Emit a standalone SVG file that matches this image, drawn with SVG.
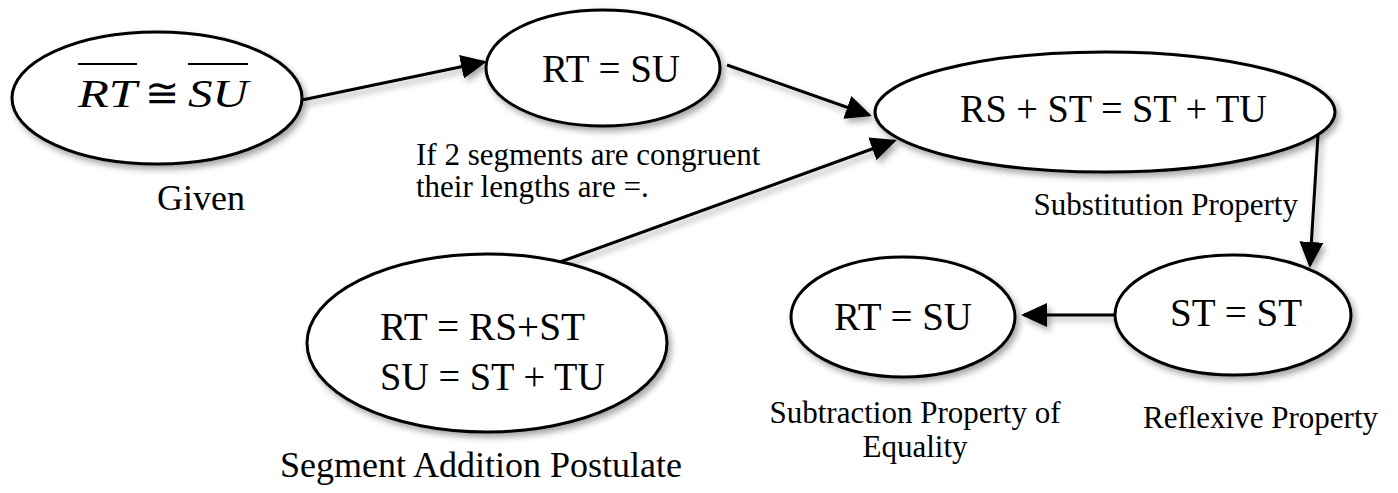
<svg xmlns="http://www.w3.org/2000/svg" width="1398" height="493" viewBox="0 0 1398 493">
<style>
.node ellipse{fill:#fff;stroke:#000;stroke-width:3;filter:url(#sh)}
.big{font-family:"Liberation Serif","DejaVu Serif",serif;font-size:41px;fill:#000}
.lbl{font-family:"Liberation Serif","DejaVu Serif",serif;font-size:31px;fill:#000}
.lbl2{font-family:"Liberation Serif","DejaVu Serif",serif;font-size:36px;fill:#000}
.conn line{stroke:#000;stroke-width:3;marker-end:url(#ah)}
</style>
<defs>
<filter id="sh" x="-20%" y="-20%" width="150%" height="160%">
<feDropShadow dx="3" dy="4" stdDeviation="3" flood-color="#000" flood-opacity="0.35"/>
</filter>
<marker id="ah" markerUnits="userSpaceOnUse" markerWidth="26" markerHeight="24" viewBox="0 0 26 24" refX="23" refY="12" orient="auto">
<path d="M0,0 L26,12 L0,24 z" fill="#000"/>
</marker>
</defs>
<rect width="1398" height="493" fill="#fff"/>
<g class="conn" id="connectors" filter="url(#sh)">
<line x1="302" y1="100" x2="484" y2="62"/>
<line x1="727" y1="65" x2="869" y2="115"/>
<line x1="560" y1="262" x2="894" y2="141"/>
<line x1="1318" y1="135" x2="1310" y2="265"/>
<line x1="1115" y1="315" x2="1024" y2="315"/>
</g>
<g class="node" id="given">
<ellipse cx="157" cy="98" rx="145" ry="66"/>
<text class="big" x="78" y="107" font-style="italic" font-size="44" textLength="59" lengthAdjust="spacingAndGlyphs">RT</text>
<text class="big" x="162" y="107" text-anchor="middle" font-size="38">≅</text>
<text class="big" x="188" y="107" font-style="italic" font-size="44" textLength="60" lengthAdjust="spacingAndGlyphs">SU</text>
<line x1="78" y1="64" x2="137" y2="64" stroke="#000" stroke-width="2"/>
<line x1="188" y1="64" x2="248" y2="64" stroke="#000" stroke-width="2"/>
<text class="lbl2" x="157" y="210">Given</text>
</g>
<g class="node" id="rtsu1">
<ellipse cx="603" cy="68" rx="117" ry="58"/>
<text class="big" x="542" y="82" textLength="138" lengthAdjust="spacingAndGlyphs">RT = SU</text>
<text class="lbl" x="416" y="165">If 2 segments are congruent</text>
<text class="lbl" x="416" y="197">their lengths are =.</text>
</g>
<g class="node" id="subst">
<ellipse cx="1105" cy="112" rx="230" ry="60"/>
<text class="big" x="960" y="122" textLength="307" lengthAdjust="spacingAndGlyphs">RS + ST = ST + TU</text>
<text class="lbl" x="1298" y="215" text-anchor="end">Substitution Property</text>
</g>
<g class="node" id="stst">
<ellipse cx="1233" cy="315" rx="118" ry="60"/>
<text class="big" x="1170" y="326" textLength="132" lengthAdjust="spacingAndGlyphs">ST = ST</text>
<text class="lbl" x="1378" y="428" text-anchor="end">Reflexive Property</text>
</g>
<g class="node" id="rtsu2">
<ellipse cx="903" cy="317" rx="112" ry="60"/>
<text class="big" x="834" y="330" textLength="138" lengthAdjust="spacingAndGlyphs">RT = SU</text>
<text class="lbl" x="915" y="423" text-anchor="middle">Subtraction Property of</text>
<text class="lbl" x="915" y="457" text-anchor="middle">Equality</text>
</g>
<g class="node" id="segadd">
<ellipse cx="487" cy="343" rx="180" ry="89"/>
<text class="big" x="380" y="340" textLength="205" lengthAdjust="spacingAndGlyphs">RT = RS+ST</text>
<text class="big" x="380" y="390" textLength="225" lengthAdjust="spacingAndGlyphs">SU = ST + TU</text>
<text class="lbl2" x="280" y="477">Segment Addition Postulate</text>
</g>
</svg>
